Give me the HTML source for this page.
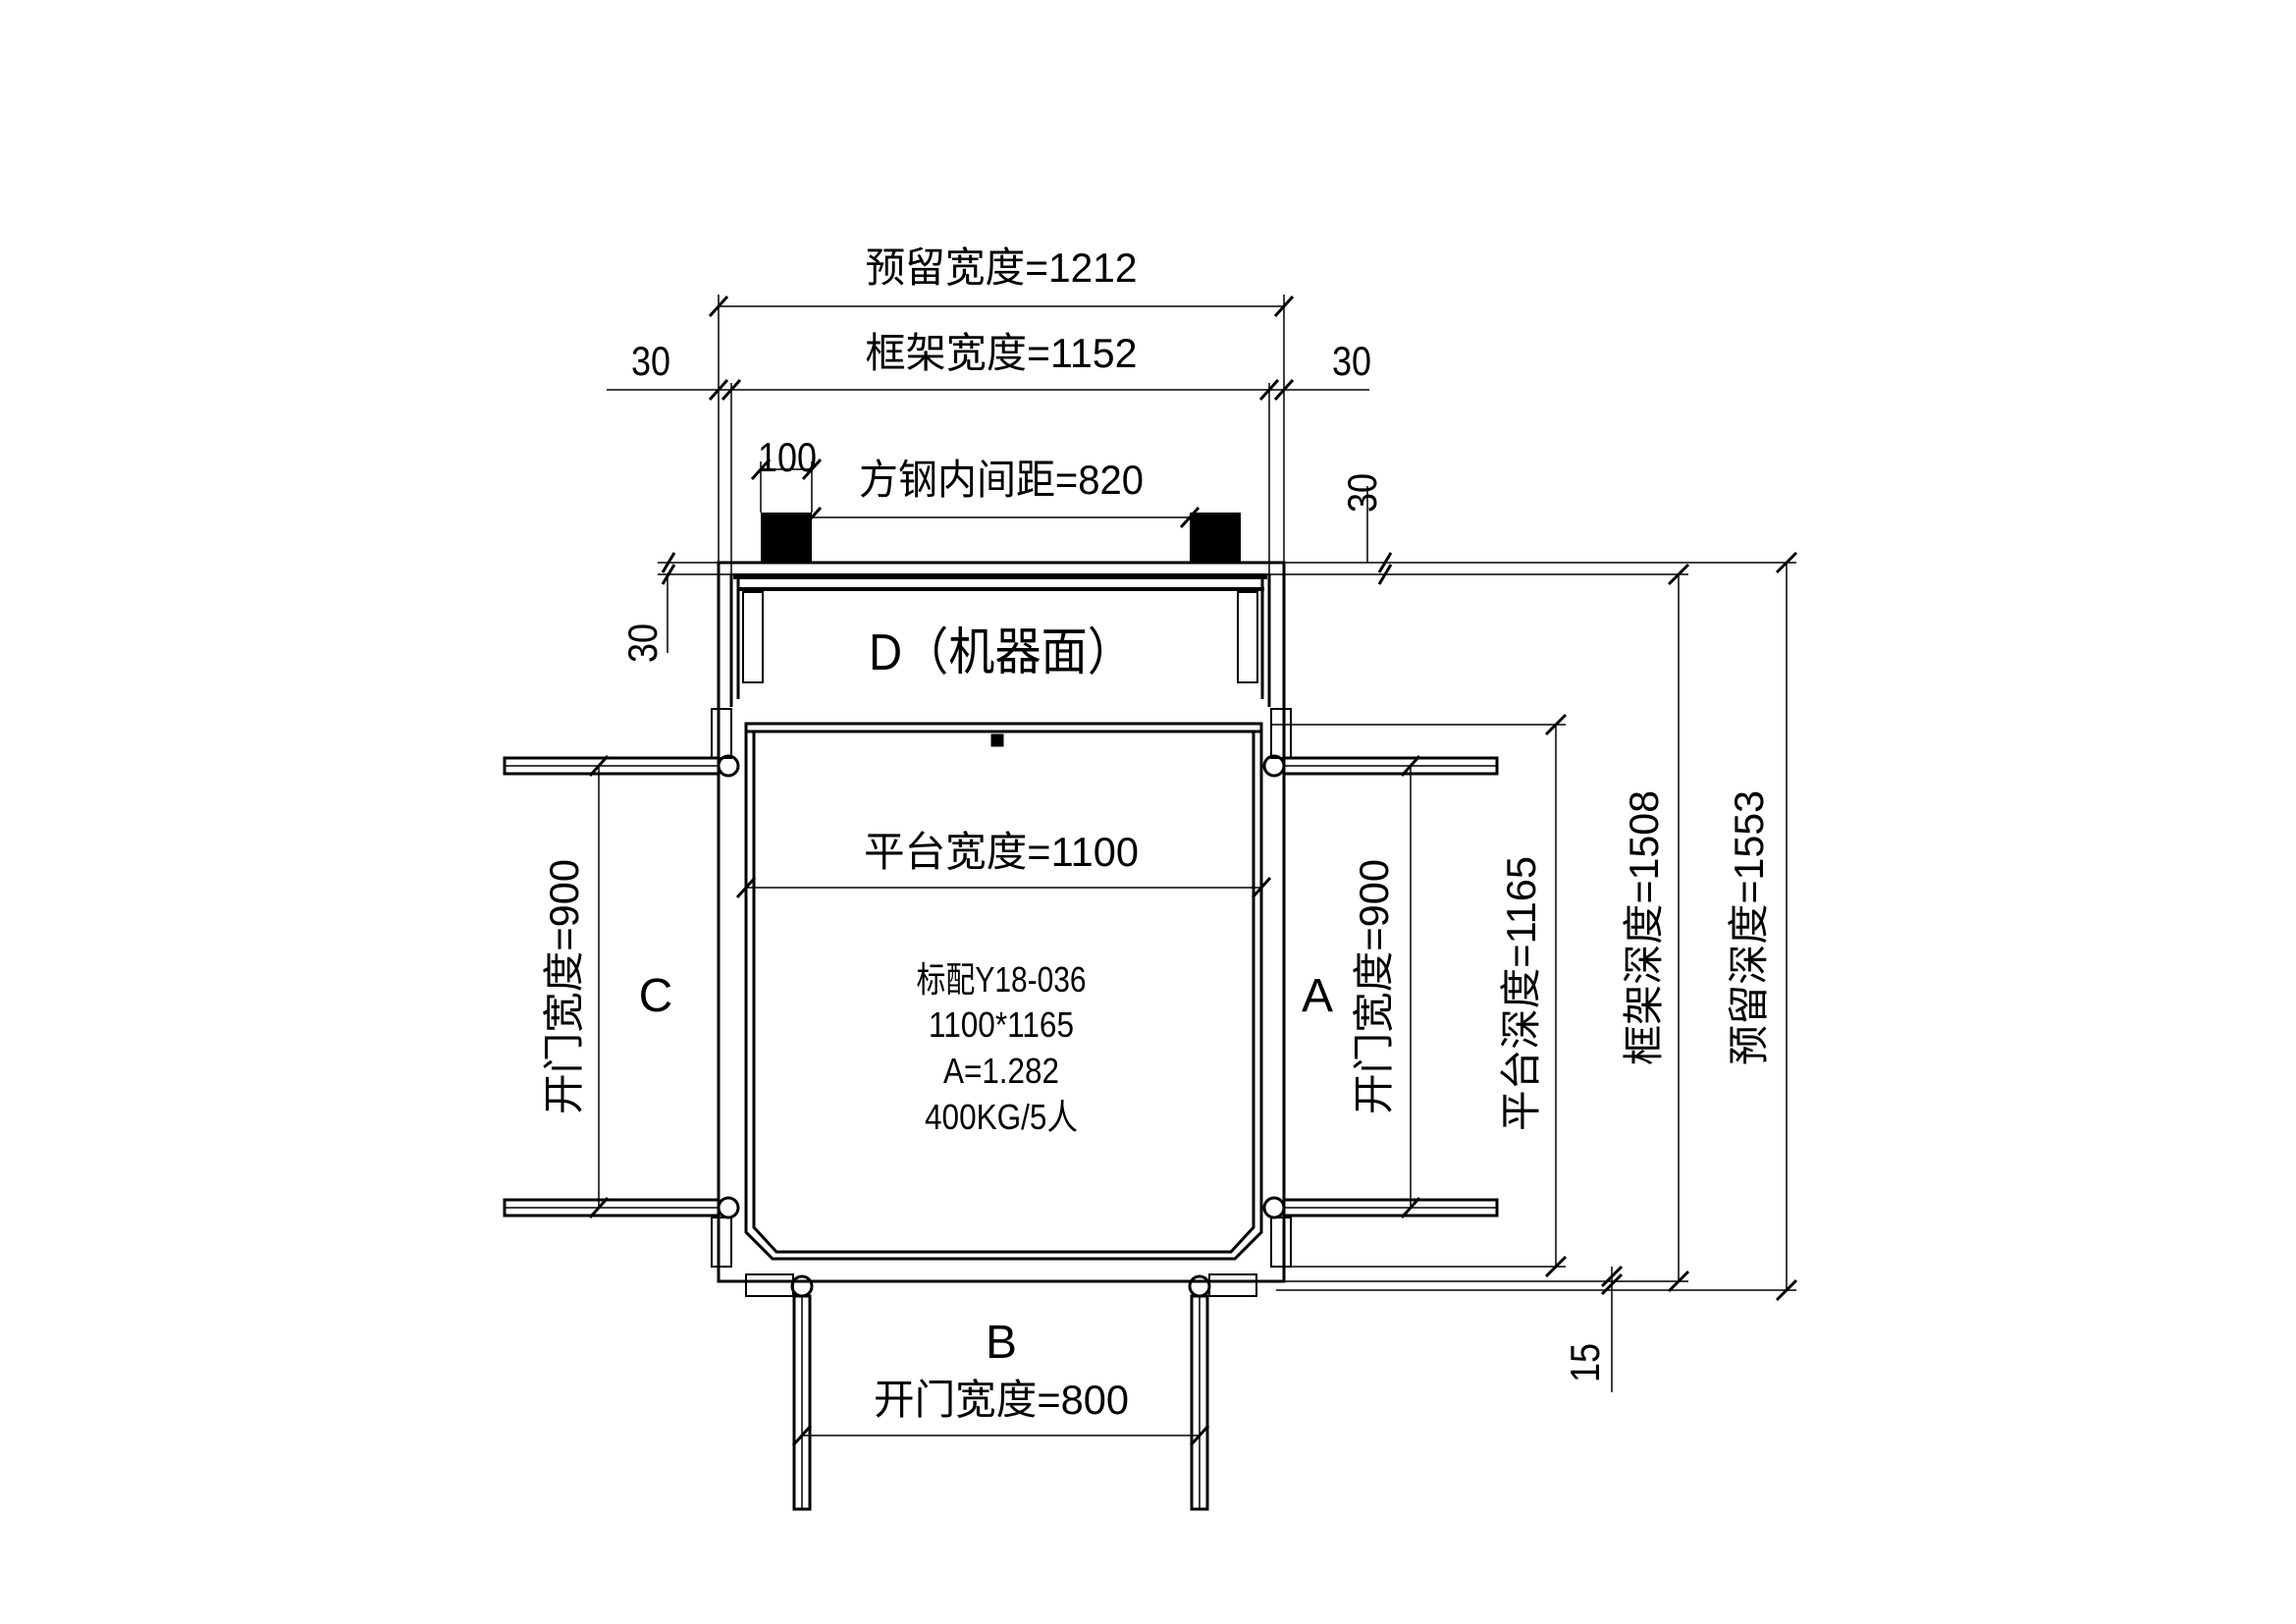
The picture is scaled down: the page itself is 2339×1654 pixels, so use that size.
<!DOCTYPE html>
<html><head><meta charset="utf-8"><style>
html,body{margin:0;padding:0;background:#fff;}
svg{display:block}
text{font-family:"Liberation Sans","Noto Sans CJK SC",sans-serif;fill:#000}
</style></head><body>
<svg width="2339" height="1654" viewBox="0 0 2339 1654" xmlns="http://www.w3.org/2000/svg">
<g stroke="#000" fill="none" stroke-width="1.5">
<line x1="732" y1="312" x2="1308" y2="312"/>
<line x1="618" y1="397" x2="1395" y2="397"/>
<line x1="732" y1="300" x2="732" y2="573"/>
<line x1="745" y1="390" x2="745" y2="585"/>
<line x1="1293" y1="390" x2="1293" y2="585"/>
<line x1="1308" y1="300" x2="1308" y2="573"/>
<line x1="827" y1="527" x2="1212" y2="527"/>
<line x1="775" y1="478" x2="827" y2="478"/>
<line x1="775" y1="470" x2="775" y2="522"/>
<line x1="827" y1="470" x2="827" y2="522"/>
<g stroke-width="3">
<line x1="723" y1="322" x2="741" y2="302"/>
<line x1="1299" y1="322" x2="1317" y2="302"/>
<line x1="723" y1="407" x2="741" y2="387"/>
<line x1="736" y1="407" x2="754" y2="387"/>
<line x1="1284" y1="407" x2="1302" y2="387"/>
<line x1="1299" y1="407" x2="1317" y2="387"/>
<line x1="766" y1="488" x2="784" y2="468"/>
<line x1="818" y1="488" x2="836" y2="468"/>
<line x1="818" y1="537" x2="836" y2="517"/>
<line x1="1203" y1="537" x2="1221" y2="517"/>
<line x1="675" y1="583" x2="687" y2="563"/>
<line x1="675" y1="595" x2="687" y2="575"/>
<line x1="1405" y1="583" x2="1417" y2="563"/>
<line x1="1405" y1="595" x2="1417" y2="575"/>
<line x1="1700" y1="595" x2="1720" y2="575"/>
<line x1="1810" y1="583" x2="1830" y2="563"/>
<line x1="1575" y1="748" x2="1595" y2="728"/>
<line x1="1575" y1="1300" x2="1595" y2="1280"/>
<line x1="1700" y1="1315" x2="1720" y2="1295"/>
<line x1="1810" y1="1324" x2="1830" y2="1304"/>
<line x1="1632" y1="1310" x2="1652" y2="1290"/>
<line x1="1632" y1="1318" x2="1652" y2="1298"/>
<line x1="601" y1="790" x2="619" y2="770"/>
<line x1="601" y1="1240" x2="619" y2="1220"/>
<line x1="1428" y1="790" x2="1446" y2="770"/>
<line x1="1428" y1="1240" x2="1446" y2="1220"/>
<line x1="808" y1="1472" x2="826" y2="1452"/>
<line x1="1213" y1="1472" x2="1231" y2="1452"/>
<line x1="751" y1="914" x2="769" y2="894"/>
<line x1="1276" y1="914" x2="1294" y2="894"/>
</g>
<line x1="670" y1="573" x2="1830" y2="573"/>
<line x1="670" y1="585" x2="1720" y2="585"/>
<line x1="680" y1="585" x2="680" y2="665"/>
<line x1="1295" y1="738" x2="1595" y2="738"/>
<line x1="1295" y1="1290" x2="1595" y2="1290"/>
<line x1="1300" y1="1305" x2="1720" y2="1305"/>
<line x1="1300" y1="1314" x2="1830" y2="1314"/>
<line x1="1585" y1="738" x2="1585" y2="1290"/>
<line x1="1710" y1="585" x2="1710" y2="1305"/>
<line x1="1820" y1="573" x2="1820" y2="1314"/>
<line x1="1642" y1="1290" x2="1642" y2="1418"/>
<line x1="1393" y1="495" x2="1393" y2="573"/>
<line x1="610" y1="780" x2="610" y2="1230"/>
<line x1="1437" y1="780" x2="1437" y2="1230"/>
<line x1="817" y1="1462" x2="1222" y2="1462"/>
<line x1="760" y1="904" x2="1285" y2="904"/>
</g>
<rect x="775" y="522" width="52" height="50" fill="#000"/>
<rect x="1212" y="522" width="52" height="50" fill="#000"/>
<g stroke="#000" fill="none">
<rect x="732" y="573" width="576" height="732" stroke-width="3"/>
<line x1="745" y1="585" x2="1293" y2="585" stroke-width="2"/>
<line x1="747" y1="588" x2="1291" y2="588" stroke-width="4"/>
<line x1="752" y1="600" x2="1288" y2="600" stroke-width="4"/>
<line x1="745" y1="585" x2="745" y2="720" stroke-width="3"/>
<line x1="752" y1="590" x2="752" y2="712" stroke-width="3"/>
<line x1="1293" y1="585" x2="1293" y2="720" stroke-width="3"/>
<line x1="1286" y1="590" x2="1286" y2="712" stroke-width="3"/>
<rect x="757" y="603" width="20" height="92" stroke-width="2"/>
<rect x="1261" y="603" width="20" height="92" stroke-width="2"/>
<rect x="760" y="737" width="525" height="8" stroke-width="3"/>
<path d="M760 745 V1255 L787 1282 H1258 L1285 1255 V745" stroke-width="3"/>
<path d="M768 745 V1250 L791 1275 H1254 L1277 1250 V745" stroke-width="3"/>
<rect x="1010" y="748" width="12" height="12" fill="#000"/>
<rect x="725" y="722" width="20" height="50" stroke-width="2"/>
<rect x="1295" y="722" width="20" height="50" stroke-width="2"/>
<rect x="725" y="1240" width="20" height="50" stroke-width="2"/>
<rect x="1295" y="1240" width="20" height="50" stroke-width="2"/>
<circle cx="742" cy="780" r="10" stroke-width="3"/>
<circle cx="1298" cy="780" r="10" stroke-width="3"/>
<circle cx="742" cy="1230" r="10" stroke-width="3"/>
<circle cx="1298" cy="1230" r="10" stroke-width="3"/>
<circle cx="817" cy="1310" r="10" stroke-width="3"/>
<circle cx="1222" cy="1310" r="10" stroke-width="3"/>
<rect x="760" y="1298" width="48" height="22" stroke-width="2"/>
<rect x="1232" y="1298" width="48" height="22" stroke-width="2"/>
<g stroke-width="3">
<rect x="514" y="772" width="218" height="16"/>
<rect x="514" y="1222" width="218" height="16"/>
<rect x="1308" y="772" width="217" height="16"/>
<rect x="1308" y="1222" width="217" height="16"/>
<rect x="809" y="1320" width="16" height="217"/>
<rect x="1214" y="1320" width="16" height="217"/>
</g>
<line x1="514" y1="780" x2="732" y2="780" stroke-width="1.5"/>
<line x1="514" y1="1230" x2="732" y2="1230" stroke-width="1.5"/>
<line x1="1308" y1="780" x2="1525" y2="780" stroke-width="1.5"/>
<line x1="1308" y1="1230" x2="1525" y2="1230" stroke-width="1.5"/>
<line x1="817" y1="1320" x2="817" y2="1537" stroke-width="1.5"/>
<line x1="1222" y1="1320" x2="1222" y2="1537" stroke-width="1.5"/>
</g>
<g font-size="42" text-anchor="middle">
<text x="1020" y="287" textLength="277" lengthAdjust="spacingAndGlyphs">预留宽度=1212</text>
<text x="1020" y="374" textLength="277" lengthAdjust="spacingAndGlyphs">框架宽度=1152</text>
<text x="663" y="382" textLength="40" lengthAdjust="spacingAndGlyphs">30</text>
<text x="1377" y="382" textLength="40" lengthAdjust="spacingAndGlyphs">30</text>
<text x="802" y="480" textLength="60" lengthAdjust="spacingAndGlyphs">100</text>
<text x="1020" y="503" textLength="290" lengthAdjust="spacingAndGlyphs">方钢内间距=820</text>
<text x="1020" y="682" font-size="52" textLength="270" lengthAdjust="spacingAndGlyphs">D（机器面）</text>
<text x="1020" y="882" textLength="280" lengthAdjust="spacingAndGlyphs">平台宽度=1100</text>
<text x="668" y="1030" font-size="48">C</text>
<text x="1342" y="1030" font-size="48">A</text>
<text x="1020" y="1383" font-size="48">B</text>
<text x="1020" y="1440" textLength="260" lengthAdjust="spacingAndGlyphs">开门宽度=800</text>
<g font-size="36">
<text x="1020" y="1010" textLength="173" lengthAdjust="spacingAndGlyphs">标配Y18-036</text>
<text x="1020" y="1056" textLength="148" lengthAdjust="spacingAndGlyphs">1100*1165</text>
<text x="1020" y="1103" textLength="118" lengthAdjust="spacingAndGlyphs">A=1.282</text>
<text x="1020" y="1150" textLength="156" lengthAdjust="spacingAndGlyphs">400KG/5人</text>
</g>
<text transform="translate(589,1005) rotate(-90)" textLength="260" lengthAdjust="spacingAndGlyphs">开门宽度=900</text>
<text transform="translate(1414,1005) rotate(-90)" textLength="260" lengthAdjust="spacingAndGlyphs">开门宽度=900</text>
<text transform="translate(1564,1012) rotate(-90)" textLength="280" lengthAdjust="spacingAndGlyphs">平台深度=1165</text>
<text transform="translate(1689,945) rotate(-90)" textLength="280" lengthAdjust="spacingAndGlyphs">框架深度=1508</text>
<text transform="translate(1796,945) rotate(-90)" textLength="280" lengthAdjust="spacingAndGlyphs">预留深度=1553</text>
<text transform="translate(1402,502) rotate(-90)" textLength="40" lengthAdjust="spacingAndGlyphs">30</text>
<text transform="translate(669,655) rotate(-90)" textLength="40" lengthAdjust="spacingAndGlyphs">30</text>
<text transform="translate(1629,1388) rotate(-90)" textLength="40" lengthAdjust="spacingAndGlyphs">15</text>
</g>
</svg>
</body></html>
